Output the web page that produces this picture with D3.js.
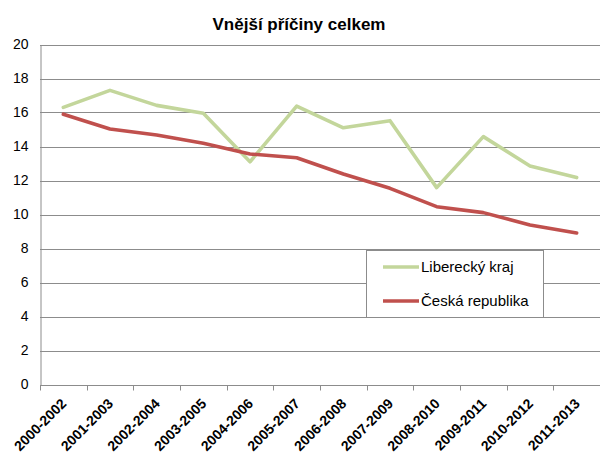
<!DOCTYPE html>
<html><head><meta charset="utf-8">
<script src="https://cdn.jsdelivr.net/npm/d3@7"></script>
<style>body{margin:0;background:#fff;}svg{display:block;font-family:"Liberation Sans",Arial,sans-serif;}</style>
</head><body>
<script>
const categories = ["2000-2002","2001-2003","2002-2004","2003-2005","2004-2006","2005-2007","2006-2008","2007-2009","2008-2010","2009-2011","2010-2012","2011-2013"];
const liberecky = [16.3,17.3,16.42,15.95,13.1,16.38,15.1,15.52,11.58,14.58,12.85,12.17];
const cr = [15.9,15.03,14.68,14.19,13.56,13.34,12.38,11.54,10.46,10.11,9.38,8.91];
const yTicks = [0,2,4,6,8,10,12,14,16,18,20];
const seriesNames = ["Liberecký kraj","Česká republika"];
const colors = ["#C3D69B","#C0504D"];

const W=600,H=453;
const svg=d3.select("body").append("svg").attr("width",W).attr("height",H);
const x=d3.scaleBand().domain(categories).range([40,600]);
const y=d3.scaleLinear().domain([0,20]).range([384.5,44.5]);

svg.append("text").attr("x",299).attr("y",30).attr("text-anchor","middle")
  .style("font-size","17px").style("font-weight","bold").text("Vnější příčiny celkem");

// gridlines
svg.append("g").selectAll("line").data(yTicks.filter(d=>d>0)).join("line")
  .attr("x1",40).attr("x2",600).attr("y1",d=>Math.round(y(d))+0.5).attr("y2",d=>Math.round(y(d))+0.5)
  .attr("stroke","#8c8c8c").attr("stroke-width",1);

// y axis
const ya=svg.append("g").attr("transform","translate(40.5,0)").call(d3.axisLeft(y).tickValues(yTicks).tickSize(0).tickPadding(12));
ya.select(".domain").attr("stroke","#8c8c8c");
ya.selectAll("text").style("font-size","14px").style("font-family","Liberation Sans, Arial").attr("fill","#000");

// x axis
const xa=svg.append("g").attr("transform","translate(0,"+(Math.round(y(0))+0.5)+")")
  .call(d3.axisBottom(x).tickSize(0).tickFormat(""));
xa.select(".domain").attr("stroke","#8c8c8c").attr("d","M40,0H600");
const tickPos=categories.map(c=>x(c)).concat([x(categories[categories.length-1])+x.bandwidth()]);
xa.selectAll(".tk").data(tickPos).join("line").attr("class","tk")
  .attr("x1",d=>Math.round(d)+0.5).attr("x2",d=>Math.round(d)+0.5).attr("y1",0).attr("y2",5).attr("stroke","#8c8c8c");
xa.selectAll(".lbl").data(categories).join("text").attr("class","lbl")
  .attr("transform",d=>"translate("+(x(d)+x.bandwidth()/2+4)+",19) rotate(-45)")
  .attr("text-anchor","end").attr("fill","#000")
  .style("font-size","14px").style("font-weight","bold").style("font-family","Liberation Sans, Arial").text(d=>d);

const line=d3.line().x((d,i)=>x(categories[i])+x.bandwidth()/2).y(d=>y(d));
[liberecky,cr].forEach((s,k)=>{
  svg.append("path").datum(s).attr("d",line).attr("fill","none")
    .attr("stroke",colors[k]).attr("stroke-width",3.6).attr("stroke-linejoin","round").attr("stroke-linecap","round");
});

// legend
const lg=svg.append("g");
lg.append("rect").attr("x",366.5).attr("y",250.5).attr("width",177).attr("height",67)
  .attr("fill","#fff").attr("stroke","#8c8c8c");
seriesNames.forEach((n,i)=>{
  const cy=267+i*34;
  lg.append("line").attr("x1",383).attr("x2",419).attr("y1",cy).attr("y2",cy).attr("stroke",colors[i]).attr("stroke-width",3.6);
  lg.append("text").attr("x",421).attr("y",cy+5).style("font-size","15px").text(n);
});
</script>
</body></html>
